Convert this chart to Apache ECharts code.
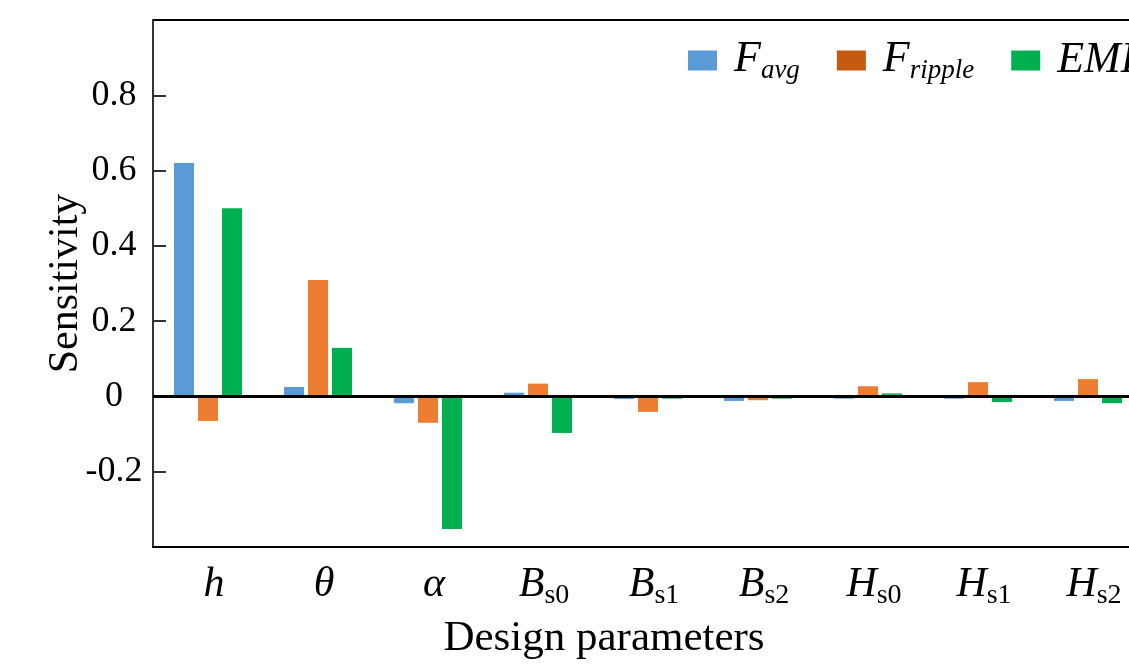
<!DOCTYPE html>
<html>
<head>
<meta charset="utf-8">
<script src="https://cdn.jsdelivr.net/npm/echarts@6/dist/echarts.min.js"></script>
<style>
html,body{margin:0;padding:0;background:#fff;}
#c{width:1129px;height:664px;}
</style>
</head>
<body>
<div id="c"></div>
<script>
const categories = ['h', 'θ', 'α', 'B_s0', 'B_s1', 'B_s2', 'H_s0', 'H_s1', 'H_s2'];
const seriesNames = ['F_avg', 'F_ripple', 'EMF'];
const favg = [0.620, 0.025, -0.018, 0.010, -0.007, -0.012, -0.006, -0.006, -0.012];
const fripple = [-0.065, 0.309, -0.070, 0.034, -0.041, -0.010, 0.027, 0.038, 0.046];
const emf = [0.500, 0.129, -0.352, -0.097, -0.006, -0.006, 0.008, -0.015, -0.018];
const yTicks = [-0.4, -0.2, 0, 0.2, 0.4, 0.6, 0.8, 1.0];

const SERIF = 'Liberation Serif';
const colors = ['#5B9BD5', '#ED7D31', '#00B050'];
const legendColors = ['#5B9BD5', '#C55A11', '#00B050'];

function richName(s) {
  const parts = s.split('_');
  return parts.length > 1 ? '{i|' + parts[0] + '}{s|' + parts[1] + '}' : '{i|' + parts[0] + '}';
}

const chart = echarts.init(document.getElementById('c'), null, {renderer: 'canvas'});
const option = {
  animation: false,
  backgroundColor: '#fff',
  textStyle: {fontFamily: SERIF},
  grid: {
    left: 153, top: 20, width: 990, bottom: 117,
    outerBoundsMode: 'none', containLabel: false,
    show: true, borderColor: '#000', borderWidth: 2, backgroundColor: 'transparent'
  },
  legend: {
    left: 683, top: 32, width: 1200,
    itemWidth: 29, itemHeight: 20, itemGap: 37,
    icon: 'rect',
    data: seriesNames.map((n, i) => ({name: n, itemStyle: {color: legendColors[i]}})),
    formatter: n => richName(n),
    textStyle: {
      fontFamily: SERIF, fontStyle: 'italic', fontSize: 44, color: '#000',
      padding: [0, 0, 0, 12],
      rich: {
        i: {fontFamily: SERIF, fontStyle: 'italic', fontSize: 44, lineHeight: 44, color: '#000', verticalAlign: 'top'},
        s: {fontFamily: SERIF, fontStyle: 'italic', fontSize: 27, lineHeight: 47, color: '#000', verticalAlign: 'bottom'}
      }
    }
  },
  xAxis: {
    type: 'category',
    data: categories,
    boundaryGap: true,
    axisLine: {show: true, onZero: false, lineStyle: {color: '#000', width: 2}},
    axisTick: {show: false},
    splitLine: {show: false},
    axisLabel: {
      interval: 0, hideOverlap: false,
      margin: 17,
      padding: [0, 0, 0, 12],
      fontFamily: SERIF, fontStyle: 'italic', fontSize: 42, color: '#000',
      formatter: v => richName(v),
      rich: {
        i: {fontFamily: SERIF, fontStyle: 'italic', fontSize: 42, lineHeight: 44, color: '#000', verticalAlign: 'top'},
        s: {fontFamily: SERIF, fontStyle: 'normal', fontSize: 28, lineHeight: 46, color: '#000', verticalAlign: 'bottom'}
      }
    },
    name: 'Design parameters',
    nameLocation: 'middle',
    nameGap: 70,
    nameMoveOverlap: false,
    nameTextStyle: {fontFamily: SERIF, fontSize: 43, color: '#000', padding: [0, 88, 0, 0]}
  },
  yAxis: {
    type: 'value',
    min: yTicks[0], max: yTicks[yTicks.length - 1], interval: 0.2,
    axisLine: {show: true, lineStyle: {color: '#333', width: 2}},
    axisTick: {show: true, inside: true, length: 13, lineStyle: {color: '#333', width: 2}},
    splitLine: {show: false},
    axisLabel: {
      margin: 39, align: 'center',
      showMinLabel: false, showMaxLabel: false,
      fontFamily: SERIF, fontSize: 36, color: '#000',
      formatter: v => (Math.abs(v) < 1e-9 ? '0' : (+v).toFixed(1))
    },
    name: 'Sensitivity',
    nameLocation: 'middle',
    nameGap: 66,
    nameMoveOverlap: false,
    nameTextStyle: {fontFamily: SERIF, fontSize: 42, color: '#000'}
  },
  series: [
    {name: seriesNames[0], type: 'bar', data: favg, barWidth: 20, barGap: '20%', itemStyle: {color: colors[0]}},
    {name: seriesNames[1], type: 'bar', data: fripple, barWidth: 20, barGap: '20%', itemStyle: {color: colors[1]}},
    {name: seriesNames[2], type: 'bar', data: emf, barWidth: 20, barGap: '20%', itemStyle: {color: colors[2]},
      markLine: {
        silent: true, symbol: ['none', 'none'], label: {show: false},
        lineStyle: {color: '#000', width: 3, type: 'solid'},
        emphasis: {disabled: true},
        data: [{yAxis: 0}]
      }
    }
  ]
};
chart.setOption(option);
</script>
</body>
</html>
